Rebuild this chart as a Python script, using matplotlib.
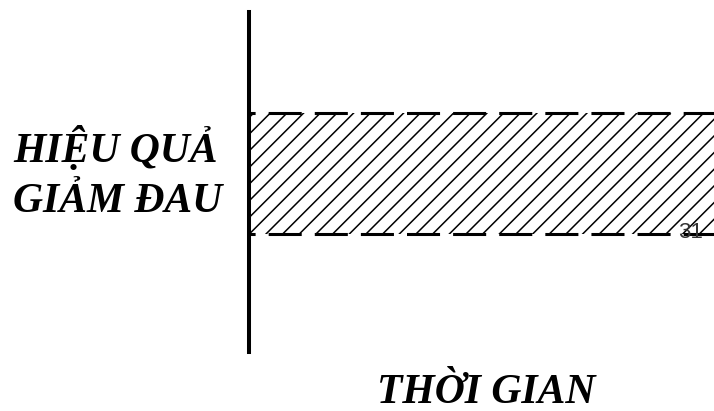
import matplotlib
matplotlib.use("Agg")
import matplotlib.pyplot as plt

# du lieu: vung hieu qua giam dau theo thoi gian (thang 0..1)
time_range = [0.0, 10.0]
effect_low = 0.347
effect_high = 0.703
y_label_lines = ["HIỆU QUẢ", "GIẢM ĐAU"]
x_label = "THỜI GIAN"
page_number = "31"

plt.rcParams['lines.scale_dashes'] = False
plt.rcParams['hatch.linewidth'] = 1.1
plt.rcParams['hatch.color'] = 'black'

fig = plt.figure(figsize=(7.14, 4.11), dpi=100)
ax = fig.add_axes([249/714, 59/411, 465/714, 340/411])
ax.set_xlim(time_range)
ax.set_ylim(0, 1)

ax.fill_between(time_range, effect_low, effect_high, facecolor='none',
                edgecolor='black', linewidth=0, hatch='//')
dash = (19.4, (23.8, 9.4))
ax.plot(time_range, [effect_high, effect_high], color='black', lw=2.2,
        linestyle=dash, solid_capstyle='butt', dash_capstyle='butt')
ax.plot(time_range, [effect_low, effect_low], color='black', lw=2.2,
        linestyle=dash, solid_capstyle='butt', dash_capstyle='butt')

for s in ['top', 'right', 'bottom']:
    ax.spines[s].set_visible(False)
ax.spines['left'].set_linewidth(2.9)
ax.set_xticks([])
ax.set_yticks([])

font = dict(family='Liberation Serif', weight='bold', style='italic', size=30)
fig.text(13/714, 1 - 162/411, y_label_lines[0], ha='left', va='baseline', **font)
fig.text(13/714, 1 - 212/411, y_label_lines[1], ha='left', va='baseline', **font)
fig.text(377/714, 1 - 403/411, x_label, ha='left', va='baseline', **font)

fig.text(678/714, 1 - 238/411, page_number, ha='left', va='baseline',
         family='Liberation Sans', size=16, color='#333333')

fig.savefig('out.png', dpi=100)
